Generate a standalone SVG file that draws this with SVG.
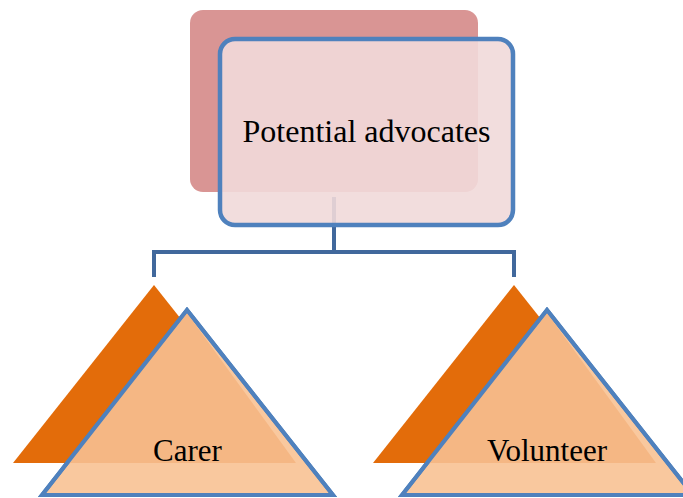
<svg xmlns="http://www.w3.org/2000/svg" width="683" height="498" viewBox="0 0 683 498">
<style>
.lbl{font-family:"Liberation Serif","Times New Roman",serif;font-size:31px;fill:#000;text-anchor:middle}
.conn{fill:none;stroke:#41689c;stroke-width:4}
.back{fill:#e36c0a}
.front{fill:#f9c89e;stroke:#4f81bd;stroke-width:4;stroke-linejoin:miter}
.shade{fill:#f5b784}
</style>
<rect width="683" height="498" fill="#fff"/>
<g id="connectors">
<path class="conn" d="M334,197 V252 M152,252 H516 M154,252 V277 M514,252 V277"/>
</g>
<g id="root">
<rect x="190" y="10" width="288" height="182" rx="13" fill="#d99594"/>
<rect x="220" y="39" width="293" height="186" rx="15" fill="#f1d9d9" fill-opacity="0.9" stroke="#4f81bd" stroke-width="4.5"/>
<text class="lbl" x="366.5" y="142" style="font-size:32px">Potential advocates</text>
</g>
<g id="carer">
<polygon class="back" points="154,285 13,463 295,463"/>
<polygon class="front" points="187,310 42,495 333,495"/>
<polygon class="shade" points="187,313 66,463 296,463"/>
<polygon points="187,310 42,495 333,495" fill="none" stroke="#4f81bd" stroke-width="4"/>
<text class="lbl" x="187.5" y="461">Carer</text>
</g>
<g id="volunteer">
<polygon class="back" points="514,285 373,463 655,463"/>
<polygon class="front" points="547,310 402,495 693,495"/>
<polygon class="shade" points="547,313 426,463 656,463"/>
<polygon points="547,310 402,495 693,495" fill="none" stroke="#4f81bd" stroke-width="4"/>
<text class="lbl" x="547" y="461">Volunteer</text>
</g>
</svg>
